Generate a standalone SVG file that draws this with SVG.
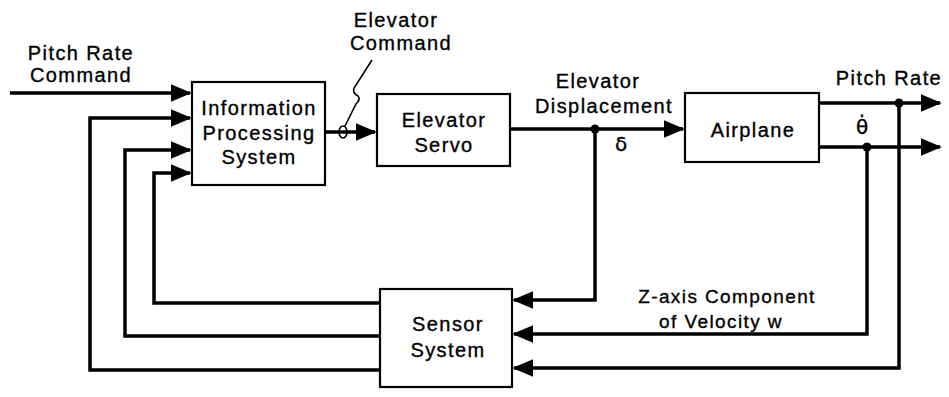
<svg xmlns="http://www.w3.org/2000/svg" width="949" height="397" viewBox="0 0 949 397">
<style>
.box{fill:#fff;stroke:#000;stroke-width:2.2}
.ln{fill:none;stroke:#000;stroke-width:3.5;stroke-linejoin:miter}
.thin{fill:none;stroke:#000;stroke-width:1.6}
text{font-family:"Liberation Sans","DejaVu Sans",sans-serif;font-size:20px;letter-spacing:1.4px;fill:#000;stroke:#000;stroke-width:0.35;text-anchor:middle}
.sym{font-family:"DejaVu Sans",sans-serif;letter-spacing:0}
.sm{font-size:19px}
</style>
<defs>
<marker id="ah" markerWidth="6" markerHeight="5" refX="5.5" refY="2.5" orient="auto" markerUnits="strokeWidth">
<path d="M0,0 L6,2.5 L0,5 z" fill="#000"/>
</marker>
</defs>
<rect width="949" height="397" fill="#fff"/>
<g id="connectors">
<line class="ln" x1="10" y1="93" x2="190" y2="93" marker-end="url(#ah)"/>
<polyline class="ln" points="380,370 90,370 90,118 190,118" marker-end="url(#ah)"/>
<polyline class="ln" points="380,336 125,336 125,150 190,150" marker-end="url(#ah)"/>
<polyline class="ln" points="380,303 154,303 154,173 190,173" marker-end="url(#ah)"/>
<line class="ln" x1="325" y1="132" x2="375" y2="132" marker-end="url(#ah)"/>
<line class="ln" x1="510" y1="129" x2="683" y2="129" marker-end="url(#ah)"/>
<polyline class="ln" points="595,129 595,300 514,300" marker-end="url(#ah)"/>
<line class="ln" x1="819" y1="103" x2="940" y2="103" marker-end="url(#ah)"/>
<line class="ln" x1="819" y1="147" x2="940" y2="147" marker-end="url(#ah)"/>
<polyline class="ln" points="867,147 867,334 514,334" marker-end="url(#ah)"/>
<polyline class="ln" points="899,103 899,368 514,368" marker-end="url(#ah)"/>
<circle cx="595" cy="129" r="4.5" fill="#000"/>
<circle cx="899" cy="103" r="4.5" fill="#000"/>
<circle cx="867" cy="147" r="4.5" fill="#000"/>
<ellipse class="thin" cx="343" cy="132" rx="4" ry="6"/>
<path class="thin" d="M372,60 L354,88 Q352,93 358,96 Q361,99 356,104 L345,126"/>
</g>
<g id="ips">
<rect class="box" x="192" y="82" width="133" height="103"/>
<text x="259" y="115">Information</text>
<text x="259" y="140">Processing</text>
<text x="259" y="164">System</text>
</g>
<g id="servo">
<rect class="box" x="377" y="94" width="133" height="72"/>
<text x="444" y="127">Elevator</text>
<text x="444" y="152">Servo</text>
</g>
<g id="airplane">
<rect class="box" x="685" y="93" width="134" height="69"/>
<text x="753" y="137">Airplane</text>
</g>
<g id="sensor">
<rect class="box" x="380" y="289" width="132" height="98"/>
<text x="448" y="331">Sensor</text>
<text x="448" y="357">System</text>
</g>
<g id="labels">
<text x="81" y="60">Pitch Rate</text>
<text x="81" y="82">Command</text>
<text x="396" y="27">Elevator</text>
<text x="401" y="50">Command</text>
<text x="598" y="88">Elevator</text>
<text x="604" y="113">Displacement</text>
<text class="sym" x="621" y="151">δ</text>
<text x="889" y="85">Pitch Rate</text>
<text class="sym" x="862" y="134">θ̇</text>
<text class="sm" x="727" y="303">Z-axis  Component</text>
<text class="sm" x="721" y="328">of Velocity  w</text>
</g>
</svg>
